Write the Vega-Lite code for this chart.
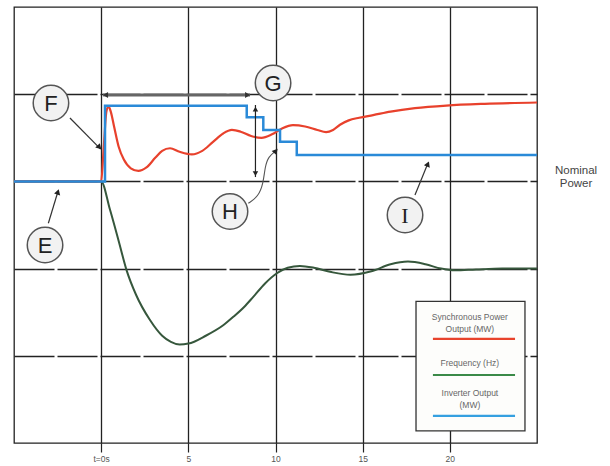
{
  "$schema": "https://vega.github.io/schema/vega-lite/v6.json",
  "width": 523,
  "height": 436,
  "autosize": {"type": "none"},
  "padding": {"left": 14, "top": 7, "right": 73, "bottom": 23},
  "background": "white",
  "config": {"view": {"stroke": "#222", "strokeWidth": 1.3}, "font": "Liberation Sans"},
  "datasets": {
    "curves": [
      {"series": "Frequency (Hz)", "t": -5, "v": 3},
      {"series": "Frequency (Hz)", "t": 0, "v": 3},
      {"series": "Frequency (Hz)", "t": 0.5, "v": 2.68},
      {"series": "Frequency (Hz)", "t": 1.0, "v": 2.32},
      {"series": "Frequency (Hz)", "t": 1.46, "v": 1.98},
      {"series": "Frequency (Hz)", "t": 2.0, "v": 1.7},
      {"series": "Frequency (Hz)", "t": 2.8, "v": 1.41},
      {"series": "Frequency (Hz)", "t": 3.5, "v": 1.23},
      {"series": "Frequency (Hz)", "t": 4.0, "v": 1.16},
      {"series": "Frequency (Hz)", "t": 4.5, "v": 1.13},
      {"series": "Frequency (Hz)", "t": 5.0, "v": 1.14},
      {"series": "Frequency (Hz)", "t": 6.0, "v": 1.23},
      {"series": "Frequency (Hz)", "t": 7.0, "v": 1.35},
      {"series": "Frequency (Hz)", "t": 7.6, "v": 1.45},
      {"series": "Frequency (Hz)", "t": 8.2, "v": 1.56},
      {"series": "Frequency (Hz)", "t": 8.7, "v": 1.67},
      {"series": "Frequency (Hz)", "t": 9.4, "v": 1.83},
      {"series": "Frequency (Hz)", "t": 10.1, "v": 1.95},
      {"series": "Frequency (Hz)", "t": 10.7, "v": 2.01},
      {"series": "Frequency (Hz)", "t": 11.4, "v": 2.03},
      {"series": "Frequency (Hz)", "t": 12.2, "v": 2.01},
      {"series": "Frequency (Hz)", "t": 13.2, "v": 1.96},
      {"series": "Frequency (Hz)", "t": 14.3, "v": 1.93},
      {"series": "Frequency (Hz)", "t": 15.5, "v": 1.97},
      {"series": "Frequency (Hz)", "t": 16.6, "v": 2.05},
      {"series": "Frequency (Hz)", "t": 17.6, "v": 2.08},
      {"series": "Frequency (Hz)", "t": 18.6, "v": 2.05},
      {"series": "Frequency (Hz)", "t": 19.5, "v": 2.0},
      {"series": "Frequency (Hz)", "t": 20.3, "v": 1.98},
      {"series": "Frequency (Hz)", "t": 21.5, "v": 1.99},
      {"series": "Frequency (Hz)", "t": 23.0, "v": 2.0},
      {"series": "Frequency (Hz)", "t": 25.0, "v": 2.0},
      {"series": "Synchronous Power Output (MW)", "t": -5, "v": 3},
      {"series": "Synchronous Power Output (MW)", "t": 0, "v": 3},
      {"series": "Synchronous Power Output (MW)", "t": 0.15, "v": 3.4},
      {"series": "Synchronous Power Output (MW)", "t": 0.3, "v": 3.8},
      {"series": "Synchronous Power Output (MW)", "t": 0.42, "v": 3.86},
      {"series": "Synchronous Power Output (MW)", "t": 0.55, "v": 3.8},
      {"series": "Synchronous Power Output (MW)", "t": 0.75, "v": 3.62},
      {"series": "Synchronous Power Output (MW)", "t": 1.0, "v": 3.4},
      {"series": "Synchronous Power Output (MW)", "t": 1.3, "v": 3.25},
      {"series": "Synchronous Power Output (MW)", "t": 1.7, "v": 3.15},
      {"series": "Synchronous Power Output (MW)", "t": 2.13, "v": 3.12},
      {"series": "Synchronous Power Output (MW)", "t": 2.6, "v": 3.16},
      {"series": "Synchronous Power Output (MW)", "t": 3.1, "v": 3.27},
      {"series": "Synchronous Power Output (MW)", "t": 3.5, "v": 3.35},
      {"series": "Synchronous Power Output (MW)", "t": 3.95, "v": 3.38},
      {"series": "Synchronous Power Output (MW)", "t": 4.5, "v": 3.34},
      {"series": "Synchronous Power Output (MW)", "t": 5.2, "v": 3.31},
      {"series": "Synchronous Power Output (MW)", "t": 5.8, "v": 3.35},
      {"series": "Synchronous Power Output (MW)", "t": 6.4, "v": 3.45},
      {"series": "Synchronous Power Output (MW)", "t": 7.0, "v": 3.55},
      {"series": "Synchronous Power Output (MW)", "t": 7.5, "v": 3.59},
      {"series": "Synchronous Power Output (MW)", "t": 8.0, "v": 3.57},
      {"series": "Synchronous Power Output (MW)", "t": 8.6, "v": 3.52},
      {"series": "Synchronous Power Output (MW)", "t": 9.2, "v": 3.5},
      {"series": "Synchronous Power Output (MW)", "t": 9.8, "v": 3.54},
      {"series": "Synchronous Power Output (MW)", "t": 10.4, "v": 3.61},
      {"series": "Synchronous Power Output (MW)", "t": 11.0, "v": 3.645},
      {"series": "Synchronous Power Output (MW)", "t": 11.7, "v": 3.63},
      {"series": "Synchronous Power Output (MW)", "t": 12.4, "v": 3.59},
      {"series": "Synchronous Power Output (MW)", "t": 12.9, "v": 3.565},
      {"series": "Synchronous Power Output (MW)", "t": 13.3, "v": 3.59},
      {"series": "Synchronous Power Output (MW)", "t": 13.7, "v": 3.65},
      {"series": "Synchronous Power Output (MW)", "t": 14.2, "v": 3.7},
      {"series": "Synchronous Power Output (MW)", "t": 14.8, "v": 3.73},
      {"series": "Synchronous Power Output (MW)", "t": 15.6, "v": 3.76},
      {"series": "Synchronous Power Output (MW)", "t": 16.6, "v": 3.8},
      {"series": "Synchronous Power Output (MW)", "t": 18.0, "v": 3.84},
      {"series": "Synchronous Power Output (MW)", "t": 19.8, "v": 3.87},
      {"series": "Synchronous Power Output (MW)", "t": 22.0, "v": 3.89},
      {"series": "Synchronous Power Output (MW)", "t": 25.0, "v": 3.905},
      {"series": "Inverter Output (MW)", "t": -5, "v": 3},
      {"series": "Inverter Output (MW)", "t": 0.22, "v": 3.868},
      {"series": "Inverter Output (MW)", "t": 8.35, "v": 3.735},
      {"series": "Inverter Output (MW)", "t": 9.3, "v": 3.589},
      {"series": "Inverter Output (MW)", "t": 10.26, "v": 3.455},
      {"series": "Inverter Output (MW)", "t": 11.22, "v": 3.303},
      {"series": "Inverter Output (MW)", "t": 25.0, "v": 3.303}
    ],
    "brackets": [
      {"id": "span", "t": 0.11, "v": 3.99, "t2": 8.54, "v2": 3.99},
      {"id": "rise", "t": 8.85, "v": 3.876, "t2": 8.85, "v2": 3.05}
    ],
    "leaders": [
      {"id": "F", "t": -1.79, "v": 3.727, "t2": -0.03, "v2": 3.37},
      {"id": "E", "t": -3.03, "v": 2.52, "t2": -2.47, "v2": 2.89},
      {"id": "I", "t": 18.0, "v": 2.844, "t2": 18.75, "v2": 3.21}
    ],
    "hcurve": [
      {"k": 1, "t": 8.44, "v": 2.749},
      {"k": 2, "t": 9.01, "v": 2.825},
      {"k": 3, "t": 9.3, "v": 2.978},
      {"k": 4, "t": 9.4, "v": 3.169},
      {"k": 5, "t": 9.59, "v": 3.284},
      {"k": 6, "t": 10.02, "v": 3.35}
    ],
    "heads": [
      {"id": "F", "t": -0.1, "v": 3.39},
      {"id": "E", "t": -2.48, "v": 2.88},
      {"id": "I", "t": 18.74, "v": 3.2},
      {"id": "H", "t": 10.02, "v": 3.35},
      {"id": "GL", "t": 0.25, "v": 3.99},
      {"id": "GR", "t": 8.4, "v": 3.99},
      {"id": "VT", "t": 8.85, "v": 3.83},
      {"id": "VB", "t": 8.85, "v": 3.09}
    ],
    "callouts": [
      {"label": "F", "t": -2.88, "v": 3.899},
      {"label": "G", "t": 9.86, "v": 4.128},
      {"label": "H", "t": 7.39, "v": 2.655},
      {"label": "E", "t": -3.22, "v": 2.271},
      {"label": "I", "t": 17.43, "v": 2.615}
    ],
    "notes": [
      {"label": "Nominal", "t": 27.24, "v": 3.119},
      {"label": "Power", "t": 27.24, "v": 2.97}
    ],
    "legendbox": [
      {"t": 18.06, "t2": 24.31, "v": 0.138, "v2": 1.623}
    ],
    "legendlines": [
      {"series": "Synchronous Power Output (MW)", "t": 19.03, "t2": 23.74, "v": 1.193},
      {"series": "Frequency (Hz)", "t": 19.03, "t2": 23.74, "v": 0.78},
      {"series": "Inverter Output (MW)", "t": 19.03, "t2": 23.74, "v": 0.31}
    ],
    "legendtext": [
      {"label": "Synchronous Power", "t": 21.15, "v": 1.448},
      {"label": "Output (MW)", "t": 21.15, "v": 1.304},
      {"label": "Frequency (Hz)", "t": 21.15, "v": 0.921},
      {"label": "Inverter Output", "t": 21.15, "v": 0.577},
      {"label": "(MW)", "t": 21.15, "v": 0.436}
    ]
  },
  "encoding": {
    "x": {
      "field": "t", "type": "quantitative",
      "scale": {"domain": [-5, 25], "nice": false, "zero": false},
      "axis": {
        "values": [0, 5, 10, 15, 20], "title": null,
        "labelExpr": "datum.value == 0 ? 't=0s' : datum.label",
        "grid": true, "gridColor": "#222", "gridWidth": 1.3, "gridOpacity": 1,
        "ticks": true, "tickSize": 9, "tickColor": "#222", "tickWidth": 1.2,
        "domain": false, "labelFontSize": 8.5, "labelColor": "#555", "labelPadding": 2,
        "labelFont": "Liberation Sans"
      }
    },
    "y": {
      "field": "v", "type": "quantitative",
      "scale": {"domain": [0, 5], "nice": false, "zero": false},
      "axis": {
        "values": [1, 2, 3, 4], "title": null, "labels": false, "ticks": false, "domain": false,
        "grid": true, "gridColor": "#222", "gridWidth": 1.3, "gridOpacity": 1, "gridDash": [40, 3]
      }
    }
  },
  "layer": [
    {
      "data": {"values": [{}]},
      "mark": {"type": "rule", "color": "#222", "strokeWidth": 1.3, "strokeDash": [40, 3]},
      "encoding": {"x": {"datum": 24.9}, "x2": {"datum": 25.46}, "y": {"datum": 3}}
    },
    {
      "data": {"name": "curves"},
      "transform": [{"filter": "datum.series == 'Frequency (Hz)'"}],
      "mark": {"type": "line", "interpolate": "monotone", "color": "#36573c", "strokeWidth": 2}
    },
    {
      "data": {"name": "curves"},
      "transform": [{"filter": "datum.series == 'Synchronous Power Output (MW)'"}],
      "mark": {"type": "line", "interpolate": "monotone", "color": "#e8412c", "strokeWidth": 2.2}
    },
    {
      "data": {"name": "curves"},
      "transform": [{"filter": "datum.series == 'Inverter Output (MW)'"}],
      "mark": {"type": "line", "interpolate": "step-after", "color": "#2a8ad8", "strokeWidth": 2.5}
    },
    {
      "data": {"name": "brackets"},
      "transform": [{"filter": "datum.id == 'span'"}],
      "mark": {"type": "rule", "color": "#666", "strokeWidth": 3},
      "encoding": {"x2": {"field": "t2"}, "y2": {"field": "v2"}}
    },
    {
      "data": {"name": "brackets"},
      "transform": [{"filter": "datum.id == 'rise'"}],
      "mark": {"type": "rule", "color": "#222", "strokeWidth": 1.2},
      "encoding": {"x2": {"field": "t2"}, "y2": {"field": "v2"}}
    },
    {
      "data": {"name": "leaders"},
      "mark": {"type": "rule", "color": "#333", "strokeWidth": 1.2},
      "encoding": {"x2": {"field": "t2"}, "y2": {"field": "v2"}}
    },
    {
      "data": {"name": "hcurve"},
      "mark": {"type": "line", "interpolate": "basis", "color": "#555", "strokeWidth": 1.1},
      "encoding": {"order": {"field": "k", "type": "quantitative"}}
    },
    {"data": {"name": "heads"}, "transform": [{"filter": "datum.id == 'F'"}],
     "mark": {"type": "point", "shape": "triangle-up", "filled": true, "color": "#222", "opacity": 1, "size": 40, "angle": 136}},
    {"data": {"name": "heads"}, "transform": [{"filter": "datum.id == 'E'"}],
     "mark": {"type": "point", "shape": "triangle-up", "filled": true, "color": "#222", "opacity": 1, "size": 40, "angle": 17}},
    {"data": {"name": "heads"}, "transform": [{"filter": "datum.id == 'I'"}],
     "mark": {"type": "point", "shape": "triangle-up", "filled": true, "color": "#222", "opacity": 1, "size": 40, "angle": 22}},
    {"data": {"name": "heads"}, "transform": [{"filter": "datum.id == 'H'"}],
     "mark": {"type": "point", "shape": "triangle-up", "filled": true, "color": "#222", "opacity": 1, "size": 40, "angle": 40}},
    {"data": {"name": "heads"}, "transform": [{"filter": "datum.id == 'GL'"}],
     "mark": {"type": "point", "shape": "triangle-up", "filled": true, "color": "#333", "opacity": 1, "size": 35, "angle": 270}},
    {"data": {"name": "heads"}, "transform": [{"filter": "datum.id == 'GR'"}],
     "mark": {"type": "point", "shape": "triangle-up", "filled": true, "color": "#333", "opacity": 1, "size": 35, "angle": 90}},
    {"data": {"name": "heads"}, "transform": [{"filter": "datum.id == 'VT'"}],
     "mark": {"type": "point", "shape": "triangle-up", "filled": true, "color": "#222", "opacity": 1, "size": 30, "angle": 0}},
    {"data": {"name": "heads"}, "transform": [{"filter": "datum.id == 'VB'"}],
     "mark": {"type": "point", "shape": "triangle-up", "filled": true, "color": "#222", "opacity": 1, "size": 30, "angle": 180}},
    {
      "data": {"name": "callouts"},
      "mark": {"type": "point", "shape": "circle", "filled": true, "fill": "#f2f2f2", "stroke": "#555", "strokeWidth": 1.5, "opacity": 1, "size": 1260}
    },
    {
      "data": {"name": "callouts"},
      "transform": [{"filter": "datum.label != 'I'"}],
      "mark": {"type": "text", "font": "Liberation Sans", "fontSize": 22, "color": "#222", "align": "center", "baseline": "middle", "dy": 1},
      "encoding": {"text": {"field": "label"}}
    },
    {
      "data": {"name": "callouts"},
      "transform": [{"filter": "datum.label == 'I'"}],
      "mark": {"type": "text", "font": "Liberation Serif", "fontSize": 22, "color": "#222", "align": "center", "baseline": "middle", "dy": 1},
      "encoding": {"text": {"field": "label"}}
    },
    {
      "data": {"name": "notes"},
      "mark": {"type": "text", "font": "Liberation Sans", "fontSize": 11.5, "color": "#444", "align": "center", "baseline": "middle"},
      "encoding": {"text": {"field": "label"}}
    },
    {
      "data": {"name": "legendbox"},
      "mark": {"type": "rect", "fill": "#fdfdfb", "stroke": "#333", "strokeWidth": 1.3},
      "encoding": {"x2": {"field": "t2"}, "y2": {"field": "v2"}}
    },
    {
      "data": {"name": "legendlines"},
      "mark": {"type": "rule", "strokeWidth": 2.2},
      "encoding": {
        "x2": {"field": "t2"},
        "color": {
          "field": "series", "type": "nominal", "legend": null,
          "scale": {"domain": ["Synchronous Power Output (MW)", "Frequency (Hz)", "Inverter Output (MW)"], "range": ["#e8432c", "#3b8a48", "#35a0e0"]}
        }
      }
    },
    {
      "data": {"name": "legendtext"},
      "mark": {"type": "text", "font": "Liberation Sans", "fontSize": 8.5, "color": "#666", "align": "center", "baseline": "middle"},
      "encoding": {"text": {"field": "label"}}
    }
  ]
}
